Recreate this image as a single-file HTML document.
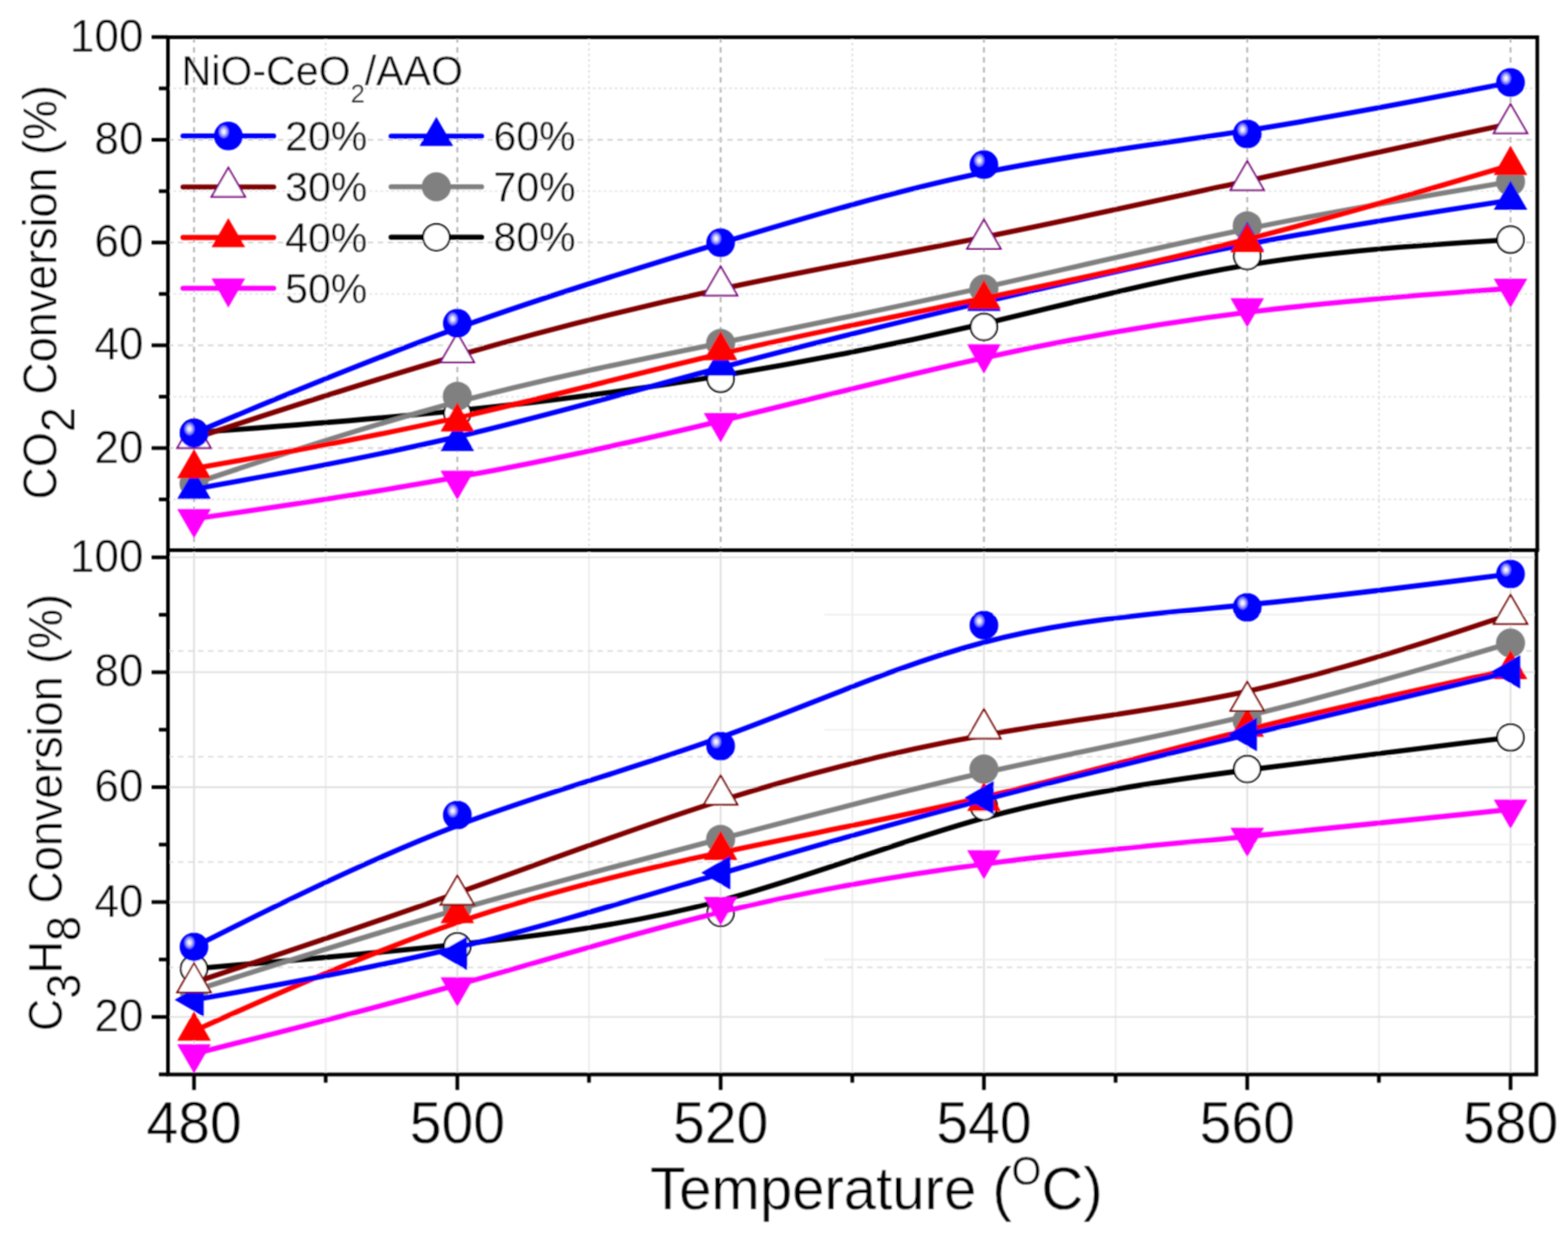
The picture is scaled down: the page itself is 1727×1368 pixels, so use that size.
<!DOCTYPE html>
<html><head><meta charset="utf-8"><title>CO2 and C3H8 conversion vs temperature</title>
<style>html,body{margin:0;padding:0;background:#fff;}svg{display:block;}</style>
</head><body>
<svg width="1727" height="1368" viewBox="0 0 1727 1368" font-family="'Liberation Sans', Arial, sans-serif" fill="#000">
<defs>
<radialGradient id="sph" cx="0.34" cy="0.35" r="0.2" fx="0.34" fy="0.35" gradientTransform="translate(0.34 0.35) scale(1 1.25) translate(-0.34 -0.35)">
<stop offset="0" stop-color="#ffffff"/>
<stop offset="0.2" stop-color="#f0f0ff"/>
<stop offset="0.5" stop-color="#b4b4ff"/>
<stop offset="0.8" stop-color="#6060ff"/>
<stop offset="1" stop-color="#0000ff"/>
</radialGradient>
<clipPath id="cu"><rect x="0" y="41.0" width="1727" height="565.0"/></clipPath>
<clipPath id="cl"><rect x="0" y="606.0" width="1727" height="597.5"/></clipPath>
<filter id="soft" filterUnits="userSpaceOnUse" x="0" y="0" width="1727" height="1368"><feConvolveMatrix order="3" kernelMatrix="1 2 1 2 4 2 1 2 1" divisor="16" edgeMode="duplicate"/></filter>
</defs>
<rect width="1727" height="1368" fill="#fff"/>
<g filter="url(#soft)">
<line x1="213.70" y1="41.0" x2="213.70" y2="606.0" stroke="#ababab" stroke-width="1.8" stroke-dasharray="6 5"/><line x1="503.70" y1="41.0" x2="503.70" y2="606.0" stroke="#ababab" stroke-width="1.8" stroke-dasharray="6 5"/><line x1="793.70" y1="41.0" x2="793.70" y2="606.0" stroke="#ababab" stroke-width="1.8" stroke-dasharray="6 5"/><line x1="1083.70" y1="41.0" x2="1083.70" y2="606.0" stroke="#ababab" stroke-width="1.8" stroke-dasharray="6 5"/><line x1="1373.70" y1="41.0" x2="1373.70" y2="606.0" stroke="#ababab" stroke-width="1.8" stroke-dasharray="6 5"/><line x1="1663.70" y1="41.0" x2="1663.70" y2="606.0" stroke="#ababab" stroke-width="1.8" stroke-dasharray="6 5"/><line x1="358.70" y1="41.0" x2="358.70" y2="606.0" stroke="#dcdcdc" stroke-width="1.6" stroke-dasharray="3 3"/><line x1="648.70" y1="41.0" x2="648.70" y2="606.0" stroke="#dcdcdc" stroke-width="1.6" stroke-dasharray="3 3"/><line x1="938.70" y1="41.0" x2="938.70" y2="606.0" stroke="#dcdcdc" stroke-width="1.6" stroke-dasharray="3 3"/><line x1="1228.70" y1="41.0" x2="1228.70" y2="606.0" stroke="#dcdcdc" stroke-width="1.6" stroke-dasharray="3 3"/><line x1="1518.70" y1="41.0" x2="1518.70" y2="606.0" stroke="#dcdcdc" stroke-width="1.6" stroke-dasharray="3 3"/><line x1="185.0" y1="493.52" x2="1693.2" y2="493.52" stroke="#d4d4d4" stroke-width="1.8" stroke-dasharray="6 5"/><line x1="185.0" y1="380.34" x2="1693.2" y2="380.34" stroke="#d4d4d4" stroke-width="1.8" stroke-dasharray="6 5"/><line x1="185.0" y1="267.16" x2="1693.2" y2="267.16" stroke="#d4d4d4" stroke-width="1.8" stroke-dasharray="6 5"/><line x1="185.0" y1="153.98" x2="1693.2" y2="153.98" stroke="#d4d4d4" stroke-width="1.8" stroke-dasharray="6 5"/><line x1="185.0" y1="550.11" x2="1693.2" y2="550.11" stroke="#e2e2e2" stroke-width="1.6" stroke-dasharray="3 3"/><line x1="185.0" y1="436.93" x2="1693.2" y2="436.93" stroke="#e2e2e2" stroke-width="1.6" stroke-dasharray="3 3"/><line x1="185.0" y1="323.75" x2="1693.2" y2="323.75" stroke="#e2e2e2" stroke-width="1.6" stroke-dasharray="3 3"/><line x1="185.0" y1="210.57" x2="1693.2" y2="210.57" stroke="#e2e2e2" stroke-width="1.6" stroke-dasharray="3 3"/><line x1="185.0" y1="97.39" x2="1693.2" y2="97.39" stroke="#e2e2e2" stroke-width="1.6" stroke-dasharray="3 3"/>
<line x1="213.70" y1="606.0" x2="213.70" y2="1183.5" stroke="#d9d9d9" stroke-width="1.6"/><line x1="358.70" y1="606.0" x2="358.70" y2="1183.5" stroke="#e9e9e9" stroke-width="1.6"/><line x1="503.70" y1="606.0" x2="503.70" y2="1183.5" stroke="#d9d9d9" stroke-width="1.6"/><line x1="648.70" y1="606.0" x2="648.70" y2="1183.5" stroke="#e9e9e9" stroke-width="1.6"/><line x1="793.70" y1="606.0" x2="793.70" y2="1183.5" stroke="#d9d9d9" stroke-width="1.6"/><line x1="938.70" y1="606.0" x2="938.70" y2="1183.5" stroke="#e9e9e9" stroke-width="1.6"/><line x1="1083.70" y1="606.0" x2="1083.70" y2="1183.5" stroke="#d9d9d9" stroke-width="1.6"/><line x1="1228.70" y1="606.0" x2="1228.70" y2="1183.5" stroke="#e9e9e9" stroke-width="1.6"/><line x1="1373.70" y1="606.0" x2="1373.70" y2="1183.5" stroke="#d9d9d9" stroke-width="1.6"/><line x1="1518.70" y1="606.0" x2="1518.70" y2="1183.5" stroke="#e9e9e9" stroke-width="1.6"/><line x1="1663.70" y1="606.0" x2="1663.70" y2="1183.5" stroke="#d9d9d9" stroke-width="1.6"/><line x1="908" y1="1056.84" x2="1692.2" y2="1056.84" stroke="#eeeeee" stroke-width="1.6"/><line x1="908" y1="930.28" x2="1692.2" y2="930.28" stroke="#eeeeee" stroke-width="1.6"/><line x1="908" y1="803.72" x2="1692.2" y2="803.72" stroke="#eeeeee" stroke-width="1.6"/><line x1="908" y1="677.16" x2="1692.2" y2="677.16" stroke="#eeeeee" stroke-width="1.6"/><line x1="185.0" y1="1120.12" x2="1692.2" y2="1120.12" stroke="#e0e0e0" stroke-width="1.8"/><line x1="185.0" y1="993.56" x2="1692.2" y2="993.56" stroke="#e0e0e0" stroke-width="1.8"/><line x1="185.0" y1="867.00" x2="1692.2" y2="867.00" stroke="#e0e0e0" stroke-width="1.8"/><line x1="185.0" y1="740.44" x2="1692.2" y2="740.44" stroke="#e0e0e0" stroke-width="1.8"/><line x1="185.0" y1="613.88" x2="1692.2" y2="613.88" stroke="#e0e0e0" stroke-width="1.8"/><line x1="185.0" y1="717.0" x2="1692.2" y2="717.0" stroke="#d8d8d8" stroke-width="1.6" stroke-dasharray="6 5"/><line x1="185.0" y1="833.5" x2="1692.2" y2="833.5" stroke="#d8d8d8" stroke-width="1.6" stroke-dasharray="6 5"/><line x1="185.0" y1="949.5" x2="1692.2" y2="949.5" stroke="#d8d8d8" stroke-width="1.6" stroke-dasharray="6 5"/><line x1="185.0" y1="1065.5" x2="1692.2" y2="1065.5" stroke="#d8d8d8" stroke-width="1.6" stroke-dasharray="6 5"/>
<g clip-path="url(#cu)"><path d="M213.70 476.52C213.70 476.52 213.70 476.52 262.03 472.94C310.37 469.36 407.03 462.20 503.70 452.31C600.37 442.41 697.03 429.78 793.70 413.95C890.37 398.12 987.03 379.09 1083.70 356.56C1180.37 334.04 1277.03 308.03 1373.70 292.01C1470.37 275.99 1567.03 269.96 1615.37 266.95C1663.70 263.93 1663.70 263.93 1663.70 263.93" fill="none" stroke="#000000" stroke-width="5.6" stroke-linecap="round" stroke-linejoin="round"/>
<circle cx="213.70" cy="476.52" r="14.6" fill="#fff" stroke="#000" stroke-width="2"/>
<circle cx="503.70" cy="455.04" r="14.6" fill="#fff" stroke="#000" stroke-width="2"/>
<circle cx="793.70" cy="417.16" r="14.6" fill="#fff" stroke="#000" stroke-width="2"/>
<circle cx="1083.70" cy="360.05" r="14.6" fill="#fff" stroke="#000" stroke-width="2"/>
<circle cx="1373.70" cy="282.03" r="14.6" fill="#fff" stroke="#000" stroke-width="2"/>
<circle cx="1663.70" cy="263.93" r="14.6" fill="#fff" stroke="#000" stroke-width="2"/>
<path d="M213.70 532.50C213.70 532.50 213.70 532.50 262.03 516.48C310.37 500.46 407.03 468.42 503.70 442.69C600.37 416.97 697.03 397.56 793.70 377.86C890.37 358.17 987.03 338.19 1083.70 316.61C1180.37 295.03 1277.03 271.85 1373.70 252.15C1470.37 232.46 1567.03 216.25 1615.37 208.15C1663.70 200.04 1663.70 200.04 1663.70 200.04" fill="none" stroke="#808080" stroke-width="5.6" stroke-linecap="round" stroke-linejoin="round"/>
<circle cx="213.70" cy="532.50" r="16" fill="#808080"/>
<circle cx="503.70" cy="436.38" r="16" fill="#808080"/>
<circle cx="793.70" cy="378.14" r="16" fill="#808080"/>
<circle cx="1083.70" cy="318.21" r="16" fill="#808080"/>
<circle cx="1373.70" cy="248.67" r="16" fill="#808080"/>
<circle cx="1663.70" cy="200.04" r="16" fill="#808080"/>
<path d="M213.70 538.72C213.70 538.72 213.70 538.72 262.03 529.95C310.37 521.19 407.03 503.66 503.70 481.05C600.37 458.43 697.03 430.73 793.70 405.00C890.37 379.27 987.03 355.53 1083.70 332.63C1180.37 309.73 1277.03 287.68 1373.70 269.12C1470.37 250.55 1567.03 235.47 1615.37 227.94C1663.70 220.40 1663.70 220.40 1663.70 220.40" fill="none" stroke="#0000ff" stroke-width="5.6" stroke-linecap="round" stroke-linejoin="round"/>
<path d="M213.70 517.36L195.20 549.40L232.20 549.40Z" fill="#0000ff"/>
<path d="M503.70 464.77L485.20 496.82L522.20 496.82Z" fill="#0000ff"/>
<path d="M793.70 381.66L775.20 413.70L812.20 413.70Z" fill="#0000ff"/>
<path d="M1083.70 310.42L1065.20 342.46L1102.20 342.46Z" fill="#0000ff"/>
<path d="M1373.70 244.27L1355.20 276.31L1392.20 276.31Z" fill="#0000ff"/>
<path d="M1663.70 199.04L1645.20 231.08L1682.20 231.08Z" fill="#0000ff"/>
<path d="M213.70 571.51C213.70 571.51 213.70 571.51 262.03 564.44C310.37 557.38 407.03 543.24 503.70 525.62C600.37 508.00 697.03 486.89 793.70 463.71C890.37 440.53 987.03 415.27 1083.70 394.16C1180.37 373.06 1277.03 356.09 1373.70 344.03C1470.37 331.97 1567.03 324.81 1615.37 321.23C1663.70 317.65 1663.70 317.65 1663.70 317.65" fill="none" stroke="#ff00ff" stroke-width="5.6" stroke-linecap="round" stroke-linejoin="round"/>
<path d="M213.70 592.87L195.20 560.83L232.20 560.83Z" fill="#ff00ff"/>
<path d="M503.70 550.47L485.20 518.42L522.20 518.42Z" fill="#ff00ff"/>
<path d="M793.70 487.14L775.20 455.10L812.20 455.10Z" fill="#ff00ff"/>
<path d="M1083.70 411.38L1065.20 379.34L1102.20 379.34Z" fill="#ff00ff"/>
<path d="M1373.70 360.49L1355.20 328.45L1392.20 328.45Z" fill="#ff00ff"/>
<path d="M1663.70 339.01L1645.20 306.97L1682.20 306.97Z" fill="#ff00ff"/>
<path d="M213.70 516.10C213.70 516.10 213.70 516.10 262.03 507.53C310.37 498.95 407.03 481.80 503.70 460.13C600.37 438.45 697.03 412.26 793.70 389.73C890.37 367.21 987.03 348.37 1083.70 328.58C1180.37 308.79 1277.03 288.06 1373.70 263.46C1470.37 238.87 1567.03 210.41 1615.37 196.18C1663.70 181.95 1663.70 181.95 1663.70 181.95" fill="none" stroke="#ff0000" stroke-width="5.6" stroke-linecap="round" stroke-linejoin="round"/>
<path d="M213.70 494.74L195.20 526.78L232.20 526.78Z" fill="#ff0000"/>
<path d="M503.70 443.29L485.20 475.33L522.20 475.33Z" fill="#ff0000"/>
<path d="M793.70 364.70L775.20 396.74L812.20 396.74Z" fill="#ff0000"/>
<path d="M1083.70 308.16L1065.20 340.20L1102.20 340.20Z" fill="#ff0000"/>
<path d="M1373.70 245.96L1355.20 278.01L1392.20 278.01Z" fill="#ff0000"/>
<path d="M1663.70 160.59L1645.20 192.63L1682.20 192.63Z" fill="#ff0000"/>
<path d="M213.70 482.74C213.70 482.74 213.70 482.74 262.03 467.01C310.37 451.27 407.03 419.79 503.70 391.81C600.37 363.82 697.03 339.32 793.70 318.49C890.37 297.67 987.03 280.52 1083.70 261.20C1180.37 241.88 1277.03 220.40 1373.70 199.19C1470.37 177.99 1567.03 157.07 1615.37 146.61C1663.70 136.15 1663.70 136.15 1663.70 136.15" fill="none" stroke="#800000" stroke-width="5.6" stroke-linecap="round" stroke-linejoin="round"/>
<path d="M213.70 461.38L195.20 493.42L232.20 493.42Z" fill="#fff" stroke="#800080" stroke-width="2" stroke-linejoin="miter"/>
<path d="M503.70 366.96L485.20 399.00L522.20 399.00Z" fill="#fff" stroke="#800080" stroke-width="2" stroke-linejoin="miter"/>
<path d="M793.70 293.46L775.20 325.50L812.20 325.50Z" fill="#fff" stroke="#800080" stroke-width="2" stroke-linejoin="miter"/>
<path d="M1083.70 242.01L1065.20 274.05L1102.20 274.05Z" fill="#fff" stroke="#800080" stroke-width="2" stroke-linejoin="miter"/>
<path d="M1373.70 177.55L1355.20 209.59L1392.20 209.59Z" fill="#fff" stroke="#800080" stroke-width="2" stroke-linejoin="miter"/>
<path d="M1663.70 114.79L1645.20 146.83L1682.20 146.83Z" fill="#fff" stroke="#800080" stroke-width="2" stroke-linejoin="miter"/>
<path d="M213.70 477.09C213.70 477.09 213.70 477.09 262.03 456.92C310.37 436.76 407.03 396.43 503.70 361.46C600.37 326.50 697.03 296.91 793.70 267.80C890.37 238.68 987.03 210.03 1083.70 190.05C1180.37 170.08 1277.03 158.77 1373.70 143.69C1470.37 128.61 1567.03 109.77 1615.37 100.34C1663.70 90.92 1663.70 90.92 1663.70 90.92" fill="none" stroke="#0000ff" stroke-width="5.6" stroke-linecap="round" stroke-linejoin="round"/>
<circle cx="213.70" cy="477.09" r="15.8" fill="url(#sph)"/>
<circle cx="503.70" cy="356.09" r="15.8" fill="url(#sph)"/>
<circle cx="793.70" cy="267.33" r="15.8" fill="url(#sph)"/>
<circle cx="1083.70" cy="181.38" r="15.8" fill="url(#sph)"/>
<circle cx="1373.70" cy="147.46" r="15.8" fill="url(#sph)"/>
<circle cx="1663.70" cy="90.92" r="15.8" fill="url(#sph)"/></g>
<g clip-path="url(#cl)"><path d="M213.70 1067.01C213.70 1067.01 213.70 1067.01 262.03 1062.89C310.37 1058.78 407.03 1050.54 503.70 1040.29C600.37 1030.04 697.03 1017.79 793.70 992.12C890.37 966.45 987.03 927.37 1083.70 900.96C1180.37 874.55 1277.03 860.82 1373.70 848.14C1470.37 835.47 1567.03 823.85 1615.37 818.04C1663.70 812.23 1663.70 812.23 1663.70 812.23" fill="none" stroke="#000000" stroke-width="5.6" stroke-linecap="round" stroke-linejoin="round"/>
<circle cx="213.70" cy="1067.01" r="14.6" fill="#fff" stroke="#000" stroke-width="2"/>
<circle cx="503.70" cy="1042.30" r="14.6" fill="#fff" stroke="#000" stroke-width="2"/>
<circle cx="793.70" cy="1005.54" r="14.6" fill="#fff" stroke="#000" stroke-width="2"/>
<circle cx="1083.70" cy="888.28" r="14.6" fill="#fff" stroke="#000" stroke-width="2"/>
<circle cx="1373.70" cy="847.09" r="14.6" fill="#fff" stroke="#000" stroke-width="2"/>
<circle cx="1663.70" cy="812.23" r="14.6" fill="#fff" stroke="#000" stroke-width="2"/>
<path d="M213.70 1091.10C213.70 1091.10 213.70 1091.10 262.03 1075.78C310.37 1060.47 407.03 1029.83 503.70 1002.05C600.37 974.27 697.03 949.34 793.70 923.99C890.37 898.64 987.03 872.86 1083.70 851.10C1180.37 829.34 1277.03 811.59 1373.70 788.46C1470.37 765.33 1567.03 736.80 1615.37 722.54C1663.70 708.28 1663.70 708.28 1663.70 708.28" fill="none" stroke="#808080" stroke-width="5.6" stroke-linecap="round" stroke-linejoin="round"/>
<circle cx="213.70" cy="1091.10" r="16" fill="#808080"/>
<circle cx="503.70" cy="999.20" r="16" fill="#808080"/>
<circle cx="793.70" cy="924.41" r="16" fill="#808080"/>
<circle cx="1083.70" cy="847.09" r="16" fill="#808080"/>
<circle cx="1373.70" cy="793.85" r="16" fill="#808080"/>
<circle cx="1663.70" cy="708.28" r="16" fill="#808080"/>
<path d="M213.70 1160.82C213.70 1160.82 213.70 1160.82 262.03 1148.56C310.37 1136.31 407.03 1111.80 503.70 1084.76C600.37 1057.72 697.03 1028.14 793.70 1004.80C890.37 981.45 987.03 964.34 1083.70 951.66C1180.37 938.99 1277.03 930.75 1373.70 921.45C1470.37 912.16 1567.03 901.80 1615.37 896.63C1663.70 891.45 1663.70 891.45 1663.70 891.45" fill="none" stroke="#ff00ff" stroke-width="5.6" stroke-linecap="round" stroke-linejoin="round"/>
<path d="M213.70 1182.18L195.20 1150.14L232.20 1150.14Z" fill="#ff00ff"/>
<path d="M503.70 1108.66L485.20 1076.62L522.20 1076.62Z" fill="#ff00ff"/>
<path d="M793.70 1019.93L775.20 987.88L812.20 987.88Z" fill="#ff00ff"/>
<path d="M1083.70 968.59L1065.20 936.55L1102.20 936.55Z" fill="#ff00ff"/>
<path d="M1373.70 943.87L1355.20 911.83L1392.20 911.83Z" fill="#ff00ff"/>
<path d="M1663.70 912.81L1645.20 880.77L1682.20 880.77Z" fill="#ff00ff"/>
<path d="M213.70 1135.46C213.70 1135.46 213.70 1135.46 262.03 1113.92C310.37 1092.37 407.03 1049.27 503.70 1016.10C600.37 982.93 697.03 959.69 793.70 939.09C890.37 918.49 987.03 900.54 1083.70 877.93C1180.37 855.33 1277.03 828.07 1373.70 803.88C1470.37 779.69 1567.03 758.57 1615.37 748.00C1663.70 737.44 1663.70 737.44 1663.70 737.44" fill="none" stroke="#ff0000" stroke-width="5.6" stroke-linecap="round" stroke-linejoin="round"/>
<path d="M213.70 1114.10L195.20 1146.15L232.20 1146.15Z" fill="#ff0000"/>
<path d="M503.70 984.81L485.20 1016.85L522.20 1016.85Z" fill="#ff0000"/>
<path d="M793.70 915.09L775.20 947.13L812.20 947.13Z" fill="#ff0000"/>
<path d="M1083.70 861.22L1065.20 893.26L1102.20 893.26Z" fill="#ff0000"/>
<path d="M1373.70 779.46L1355.20 811.50L1392.20 811.50Z" fill="#ff0000"/>
<path d="M1663.70 716.08L1645.20 748.12L1682.20 748.12Z" fill="#ff0000"/>
<path d="M213.70 1101.24C213.70 1101.24 213.70 1101.24 262.03 1092.68C310.37 1084.13 407.03 1067.01 503.70 1043.67C600.37 1020.32 697.03 990.75 793.70 962.23C890.37 933.71 987.03 906.24 1083.70 880.89C1180.37 855.54 1277.03 832.30 1373.70 809.16C1470.37 786.03 1567.03 763.00 1615.37 751.49C1663.70 739.97 1663.70 739.97 1663.70 739.97" fill="none" stroke="#0000ff" stroke-width="5.6" stroke-linecap="round" stroke-linejoin="round"/>
<path d="M192.34 1101.24L224.38 1082.74L224.38 1119.74Z" fill="#0000ff"/>
<path d="M482.34 1049.90L514.38 1031.40L514.38 1068.40Z" fill="#0000ff"/>
<path d="M772.34 961.17L804.38 942.67L804.38 979.67Z" fill="#0000ff"/>
<path d="M1062.34 878.78L1094.38 860.28L1094.38 897.28Z" fill="#0000ff"/>
<path d="M1352.34 809.06L1384.38 790.56L1384.38 827.56Z" fill="#0000ff"/>
<path d="M1642.34 739.97L1674.38 721.47L1674.38 758.47Z" fill="#0000ff"/>
<path d="M213.70 1082.23C213.70 1082.23 213.70 1082.23 262.03 1066.17C310.37 1050.11 407.03 1018.00 503.70 983.56C600.37 949.13 697.03 912.37 793.70 881.84C890.37 851.31 987.03 827.02 1083.70 809.80C1180.37 792.58 1277.03 782.44 1373.70 761.42C1470.37 740.40 1567.03 708.50 1615.37 692.54C1663.70 676.59 1663.70 676.59 1663.70 676.59" fill="none" stroke="#800000" stroke-width="5.6" stroke-linecap="round" stroke-linejoin="round"/>
<path d="M213.70 1060.86L195.20 1092.91L232.20 1092.91Z" fill="#fff" stroke="#800000" stroke-width="2" stroke-linejoin="miter"/>
<path d="M503.70 964.53L485.20 996.57L522.20 996.57Z" fill="#fff" stroke="#800000" stroke-width="2" stroke-linejoin="miter"/>
<path d="M793.70 854.25L775.20 886.29L812.20 886.29Z" fill="#fff" stroke="#800000" stroke-width="2" stroke-linejoin="miter"/>
<path d="M1083.70 781.36L1065.20 813.40L1102.20 813.40Z" fill="#fff" stroke="#800000" stroke-width="2" stroke-linejoin="miter"/>
<path d="M1373.70 750.94L1355.20 782.98L1392.20 782.98Z" fill="#fff" stroke="#800000" stroke-width="2" stroke-linejoin="miter"/>
<path d="M1663.70 655.23L1645.20 687.27L1682.20 687.27Z" fill="#fff" stroke="#800000" stroke-width="2" stroke-linejoin="miter"/>
<path d="M213.70 1042.93C213.70 1042.93 213.70 1042.93 262.03 1018.74C310.37 994.55 407.03 946.17 503.70 909.30C600.37 872.44 697.03 847.09 793.70 812.23C890.37 777.37 987.03 733.00 1083.70 707.54C1180.37 682.09 1277.03 675.54 1373.70 666.14C1470.37 656.73 1567.03 644.48 1615.37 638.35C1663.70 632.23 1663.70 632.23 1663.70 632.23" fill="none" stroke="#0000ff" stroke-width="5.6" stroke-linecap="round" stroke-linejoin="round"/>
<circle cx="213.70" cy="1042.93" r="15.8" fill="url(#sph)"/>
<circle cx="503.70" cy="897.79" r="15.8" fill="url(#sph)"/>
<circle cx="793.70" cy="821.73" r="15.8" fill="url(#sph)"/>
<circle cx="1083.70" cy="688.64" r="15.8" fill="url(#sph)"/>
<circle cx="1373.70" cy="668.99" r="15.8" fill="url(#sph)"/>
<circle cx="1663.70" cy="632.23" r="15.8" fill="url(#sph)"/></g>
<text transform="translate(200.00 93.60) scale(1 1.04)" font-size="45.3" stroke="#fff" stroke-width="0.3">NiO-CeO<tspan font-size="28" dy="18.5">2</tspan><tspan dy="-18.5">/AAO</tspan></text><line x1="201.60000000000002" y1="149.8" x2="301.4" y2="149.8" stroke="#0000ff" stroke-width="5.6" stroke-linecap="round"/><circle cx="251.50" cy="149.80" r="15.8" fill="url(#sph)"/><text transform="translate(314.00 165.80) scale(1 1.04)" font-size="45.3" stroke="#fff" stroke-width="0.3">20%</text><line x1="201.60000000000002" y1="206.0" x2="301.4" y2="206.0" stroke="#800000" stroke-width="5.6" stroke-linecap="round"/><path d="M251.50 184.64L233.00 216.68L270.00 216.68Z" fill="#fff" stroke="#800080" stroke-width="2" stroke-linejoin="miter"/><text transform="translate(314.00 222.00) scale(1 1.04)" font-size="45.3" stroke="#fff" stroke-width="0.3">30%</text><line x1="201.60000000000002" y1="261.6" x2="301.4" y2="261.6" stroke="#ff0000" stroke-width="5.6" stroke-linecap="round"/><path d="M251.50 240.24L233.00 272.28L270.00 272.28Z" fill="#ff0000"/><text transform="translate(314.00 277.60) scale(1 1.04)" font-size="45.3" stroke="#fff" stroke-width="0.3">40%</text><line x1="201.60000000000002" y1="317.5" x2="301.4" y2="317.5" stroke="#ff00ff" stroke-width="5.6" stroke-linecap="round"/><path d="M251.50 338.86L233.00 306.82L270.00 306.82Z" fill="#ff00ff"/><text transform="translate(314.00 333.50) scale(1 1.04)" font-size="45.3" stroke="#fff" stroke-width="0.3">50%</text><line x1="430.8" y1="150.0" x2="530.4000000000001" y2="150.0" stroke="#0000ff" stroke-width="5.6" stroke-linecap="round"/><path d="M480.60 128.64L462.10 160.68L499.10 160.68Z" fill="#0000ff"/><text transform="translate(543.50 166.00) scale(1 1.04)" font-size="45.3" stroke="#fff" stroke-width="0.3">60%</text><line x1="430.8" y1="205.8" x2="530.4000000000001" y2="205.8" stroke="#808080" stroke-width="5.6" stroke-linecap="round"/><circle cx="480.60" cy="205.80" r="16" fill="#808080"/><text transform="translate(543.50 221.80) scale(1 1.04)" font-size="45.3" stroke="#fff" stroke-width="0.3">70%</text><line x1="430.8" y1="261.3" x2="530.4000000000001" y2="261.3" stroke="#000000" stroke-width="5.6" stroke-linecap="round"/><circle cx="480.60" cy="261.30" r="14.6" fill="#fff" stroke="#000" stroke-width="2"/><text transform="translate(543.50 277.30) scale(1 1.04)" font-size="45.3" stroke="#fff" stroke-width="0.3">80%</text>
<path d="M185.0 41.0H1693.2V606.0" fill="none" stroke="#000" stroke-width="4.0"/><path d="M185.0 39.0V1183.5H1692.2V606.0" fill="none" stroke="#000" stroke-width="4.0"/><line x1="185.0" y1="606.0" x2="1695.2" y2="606.0" stroke="#000" stroke-width="4.0"/><line x1="167.0" y1="493.52" x2="185.0" y2="493.52" stroke="#000" stroke-width="4.0"/><line x1="167.0" y1="380.34" x2="185.0" y2="380.34" stroke="#000" stroke-width="4.0"/><line x1="167.0" y1="267.16" x2="185.0" y2="267.16" stroke="#000" stroke-width="4.0"/><line x1="167.0" y1="153.98" x2="185.0" y2="153.98" stroke="#000" stroke-width="4.0"/><line x1="167.0" y1="40.80" x2="185.0" y2="40.80" stroke="#000" stroke-width="4.0"/><line x1="175.0" y1="550.11" x2="185.0" y2="550.11" stroke="#000" stroke-width="4.0"/><line x1="175.0" y1="436.93" x2="185.0" y2="436.93" stroke="#000" stroke-width="4.0"/><line x1="175.0" y1="323.75" x2="185.0" y2="323.75" stroke="#000" stroke-width="4.0"/><line x1="175.0" y1="210.57" x2="185.0" y2="210.57" stroke="#000" stroke-width="4.0"/><line x1="175.0" y1="97.39" x2="185.0" y2="97.39" stroke="#000" stroke-width="4.0"/><line x1="167.0" y1="1120.12" x2="185.0" y2="1120.12" stroke="#000" stroke-width="4.0"/><line x1="167.0" y1="993.56" x2="185.0" y2="993.56" stroke="#000" stroke-width="4.0"/><line x1="167.0" y1="867.00" x2="185.0" y2="867.00" stroke="#000" stroke-width="4.0"/><line x1="167.0" y1="740.44" x2="185.0" y2="740.44" stroke="#000" stroke-width="4.0"/><line x1="167.0" y1="613.88" x2="185.0" y2="613.88" stroke="#000" stroke-width="4.0"/><line x1="175.0" y1="1183.40" x2="185.0" y2="1183.40" stroke="#000" stroke-width="4.0"/><line x1="175.0" y1="1056.84" x2="185.0" y2="1056.84" stroke="#000" stroke-width="4.0"/><line x1="175.0" y1="930.28" x2="185.0" y2="930.28" stroke="#000" stroke-width="4.0"/><line x1="175.0" y1="803.72" x2="185.0" y2="803.72" stroke="#000" stroke-width="4.0"/><line x1="175.0" y1="677.16" x2="185.0" y2="677.16" stroke="#000" stroke-width="4.0"/><line x1="213.70" y1="1183.5" x2="213.70" y2="1200.5" stroke="#000" stroke-width="4.0"/><line x1="503.70" y1="1183.5" x2="503.70" y2="1200.5" stroke="#000" stroke-width="4.0"/><line x1="793.70" y1="1183.5" x2="793.70" y2="1200.5" stroke="#000" stroke-width="4.0"/><line x1="1083.70" y1="1183.5" x2="1083.70" y2="1200.5" stroke="#000" stroke-width="4.0"/><line x1="1373.70" y1="1183.5" x2="1373.70" y2="1200.5" stroke="#000" stroke-width="4.0"/><line x1="1663.70" y1="1183.5" x2="1663.70" y2="1200.5" stroke="#000" stroke-width="4.0"/><line x1="358.70" y1="1183.5" x2="358.70" y2="1192.5" stroke="#000" stroke-width="4.0"/><line x1="648.70" y1="1183.5" x2="648.70" y2="1192.5" stroke="#000" stroke-width="4.0"/><line x1="938.70" y1="1183.5" x2="938.70" y2="1192.5" stroke="#000" stroke-width="4.0"/><line x1="1228.70" y1="1183.5" x2="1228.70" y2="1192.5" stroke="#000" stroke-width="4.0"/><line x1="1518.70" y1="1183.5" x2="1518.70" y2="1192.5" stroke="#000" stroke-width="4.0"/>
<text transform="translate(158.00 509.52) scale(1 1.04)" text-anchor="end" font-size="48.5" stroke="#fff" stroke-width="0.3">20</text><text transform="translate(158.00 1136.12) scale(1 1.04)" text-anchor="end" font-size="48.5" stroke="#fff" stroke-width="0.3">20</text><text transform="translate(158.00 396.34) scale(1 1.04)" text-anchor="end" font-size="48.5" stroke="#fff" stroke-width="0.3">40</text><text transform="translate(158.00 1009.56) scale(1 1.04)" text-anchor="end" font-size="48.5" stroke="#fff" stroke-width="0.3">40</text><text transform="translate(158.00 283.16) scale(1 1.04)" text-anchor="end" font-size="48.5" stroke="#fff" stroke-width="0.3">60</text><text transform="translate(158.00 883.00) scale(1 1.04)" text-anchor="end" font-size="48.5" stroke="#fff" stroke-width="0.3">60</text><text transform="translate(158.00 169.98) scale(1 1.04)" text-anchor="end" font-size="48.5" stroke="#fff" stroke-width="0.3">80</text><text transform="translate(158.00 756.44) scale(1 1.04)" text-anchor="end" font-size="48.5" stroke="#fff" stroke-width="0.3">80</text><text transform="translate(158.00 56.80) scale(1 1.04)" text-anchor="end" font-size="48.5" stroke="#fff" stroke-width="0.3">100</text><text transform="translate(158.00 629.88) scale(1 1.04)" text-anchor="end" font-size="48.5" stroke="#fff" stroke-width="0.3">100</text><text transform="translate(213.70 1258.50) scale(1 1.04)" text-anchor="middle" font-size="63" stroke="#fff" stroke-width="0.3">480</text><text transform="translate(503.70 1258.50) scale(1 1.04)" text-anchor="middle" font-size="63" stroke="#fff" stroke-width="0.3">500</text><text transform="translate(793.70 1258.50) scale(1 1.04)" text-anchor="middle" font-size="63" stroke="#fff" stroke-width="0.3">520</text><text transform="translate(1083.70 1258.50) scale(1 1.04)" text-anchor="middle" font-size="63" stroke="#fff" stroke-width="0.3">540</text><text transform="translate(1373.70 1258.50) scale(1 1.04)" text-anchor="middle" font-size="63" stroke="#fff" stroke-width="0.3">560</text><text transform="translate(1663.70 1258.50) scale(1 1.04)" text-anchor="middle" font-size="63" stroke="#fff" stroke-width="0.3">580</text><text transform="translate(716.00 1332.50) scale(1 1.04)" font-size="64" stroke="#fff" stroke-width="0.3">Temperature (<tspan font-size="42" dy="-26">O</tspan><tspan dy="26">C)</tspan></text><text transform="translate(61.50 322.00) rotate(-90) scale(1 1.04)" text-anchor="middle" font-size="49.5" stroke="#fff" stroke-width="0.3">CO<tspan dy="20">2</tspan><tspan dy="-20"> Conversion (%)</tspan></text><text transform="translate(67.50 895.00) rotate(-90) scale(1 1.04)" text-anchor="middle" font-size="49.5" stroke="#fff" stroke-width="0.3">C<tspan dy="20">3</tspan><tspan dy="-20">H</tspan><tspan dy="20">8</tspan><tspan dy="-20"> Conversion (%)</tspan></text>
</g>
</svg>
</body></html>
